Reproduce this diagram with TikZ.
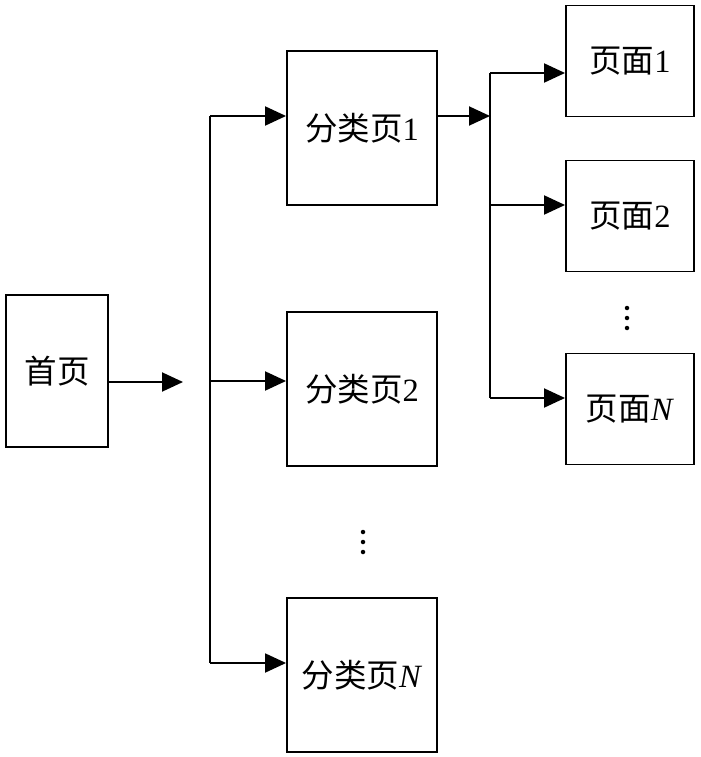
\documentclass[tikz,border=0pt]{standalone}
\usepackage{fontspec}
\setmainfont{Liberation Serif}
\newfontfamily\cjk{Noto Sans CJK SC}
\usepackage{tikz}
\usetikzlibrary{arrows.meta}
\tikzstyle{home} = [rectangle, minimum width=2.04cm, minimum height=3.04cm, text centered, draw=black]
\tikzstyle{category} = [rectangle, minimum width=3cm, minimum height=3.08cm, text centered, draw=black]
\tikzstyle{page} = [rectangle, minimum width=2.56cm, minimum height=2.22cm, text centered, draw=black]
\tikzstyle{arrow} = [->, >={Triangle[length=0.42cm, width=0.38cm]}]

\begin{document}
\begin{tikzpicture}[x=0.02cm, y=-0.02cm, line width=1.1pt, every node/.style={font=\fontsize{18.5}{22}\selectfont}]
    \useasboundingbox (0,0) rectangle (700,757);
    \node (home) [home] at (57,371) {\cjk 首页};
    \node (cat1) [category] at (362,128) {{\cjk 分类页}1};
    \node (cat2) [category] at (362,389) {{\cjk 分类页}2};
    \node (catN) [category] at (362,675) {{\cjk 分类页}\textit{N}};
    \node (page1) [page] at (630,61) {{\cjk 页面}1};
    \node (page2) [page] at (630,216) {{\cjk 页面}2};
    \node (pageN) [page] at (630,409) {{\cjk 页面}\textit{N}};
    % home page to the categories
    \coordinate (split) at (183,382);
    \coordinate (t1) at (210,116);
    \coordinate (t2) at (210,381);
    \coordinate (tN) at (210,663);
    \draw [arrow] (home.east |- split) -- (split);
    \draw (t1) -- (tN);
    \draw [arrow] (t1) -- (t1 -| cat1.west);
    \draw [arrow] (t2) -- (t2 -| cat2.west);
    \draw [arrow] (tN) -- (tN -| catN.west);
    % category 1 to its pages
    \coordinate (s1) at (490,73);
    \coordinate (s2) at (490,205);
    \coordinate (sN) at (490,398);
    \draw [arrow] (cat1.east |- t1) -- (s1 |- t1);
    \draw (s1) -- (sN);
    \draw [arrow] (s1) -- (s1 -| page1.west);
    \draw [arrow] (s2) -- (s2 -| page2.west);
    \draw [arrow] (sN) -- (sN -| pageN.west);
    % dots
    \foreach \dy in {-10,0,10} {
        \fill (363,542+\dy) circle (0.045cm);
        \fill (627,318+\dy) circle (0.045cm);
    }
\end{tikzpicture}
\end{document}
